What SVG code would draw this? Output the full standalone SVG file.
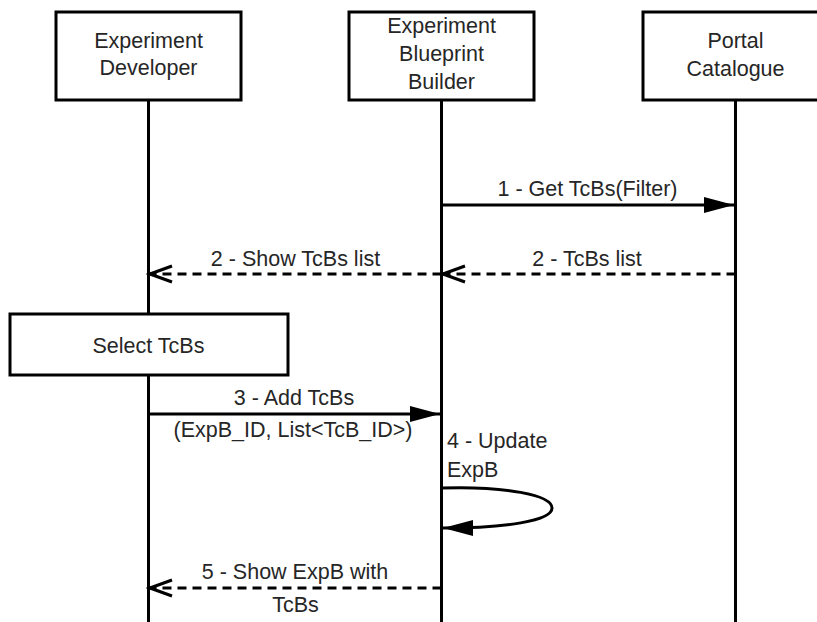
<svg xmlns="http://www.w3.org/2000/svg" width="817" height="622" viewBox="0 0 817 622">
  <style>
    .box { fill: #ffffff; stroke: #000000; stroke-width: 3; }
    .life { stroke: #000000; stroke-width: 3; fill: none; }
    .msg { stroke: #000000; stroke-width: 3; fill: none; }
    .dash { stroke-dasharray: 9 6; }
    text { font-family: "Liberation Sans", Arial, sans-serif; font-size: 21.5px; fill: #262626; }
    .c { text-anchor: middle; }
  </style>
  <defs>
    <marker id="solidHead" markerUnits="userSpaceOnUse" markerWidth="32" markerHeight="20" viewBox="-30 -10 32 20" refX="0" refY="0" orient="auto">
      <polygon points="0,0 -30,-8 -30,8" fill="#000000"/>
    </marker>
    <marker id="openHead" markerUnits="userSpaceOnUse" markerWidth="30" markerHeight="24" viewBox="-26 -12 30 24" refX="0" refY="0" orient="auto">
      <polyline points="-22,-8 0,0 -22,8" fill="none" stroke="#000000" stroke-width="3"/>
    </marker>
  </defs>

  <!-- lifelines -->
  <g id="lifelines">
    <line class="life" x1="148.5" y1="100" x2="148.5" y2="622"/>
    <line class="life" x1="441.5" y1="100" x2="441.5" y2="622"/>
    <line class="life" x1="735.5" y1="100" x2="735.5" y2="622"/>
  </g>

  <!-- participants -->
  <g id="experiment-developer">
    <rect class="box" x="56" y="12" width="185" height="88"/>
    <text class="c" x="148.5" y="48">Experiment</text>
    <text class="c" x="148.5" y="75">Developer</text>
  </g>
  <g id="blueprint-builder">
    <rect class="box" x="349" y="12" width="185" height="88"/>
    <text class="c" x="441.5" y="33">Experiment</text>
    <text class="c" x="441.5" y="61">Blueprint</text>
    <text class="c" x="441.5" y="89">Builder</text>
  </g>
  <g id="portal-catalogue">
    <rect class="box" x="643" y="12" width="185" height="88"/>
    <text class="c" x="735.5" y="48">Portal</text>
    <text class="c" x="735.5" y="76">Catalogue</text>
  </g>

  <!-- activity on the developer lifeline -->
  <g id="select-tcbs">
    <rect class="box" x="10" y="314" width="278" height="61"/>
    <text class="c" x="148.5" y="353">Select TcBs</text>
  </g>

  <!-- messages -->
  <g id="connectors">
    <line class="msg" x1="441.5" y1="205" x2="734" y2="205" marker-end="url(#solidHead)"/>
    <line class="msg dash" x1="735.5" y1="274" x2="443" y2="274" marker-end="url(#openHead)"/>
    <line class="msg dash" x1="441.5" y1="274" x2="150" y2="274" marker-end="url(#openHead)"/>
    <line class="msg" x1="148.5" y1="414" x2="440" y2="414" marker-end="url(#solidHead)"/>
    <path class="msg" d="M441.5,488 C505,486 552,495 552,508 C552,521 505,528 443,528" marker-end="url(#solidHead)"/>
    <line class="msg dash" x1="441.5" y1="588" x2="150" y2="588" marker-end="url(#openHead)"/>
  </g>

  <!-- message labels -->
  <g id="labels">
    <text class="c" x="587.5" y="196">1 - Get TcBs(Filter)</text>
    <text class="c" x="587" y="266">2 - TcBs list</text>
    <text class="c" x="295.5" y="266">2 - Show TcBs list</text>
    <text class="c" x="294" y="405">3 - Add TcBs</text>
    <text class="c" x="293" y="437">(ExpB_ID, List&lt;TcB_ID&gt;)</text>
    <text x="447" y="448">4 - Update</text>
    <text x="447" y="477">ExpB</text>
    <text class="c" x="295" y="579">5 - Show ExpB with</text>
    <text class="c" x="295.5" y="612">TcBs</text>
  </g>
</svg>
